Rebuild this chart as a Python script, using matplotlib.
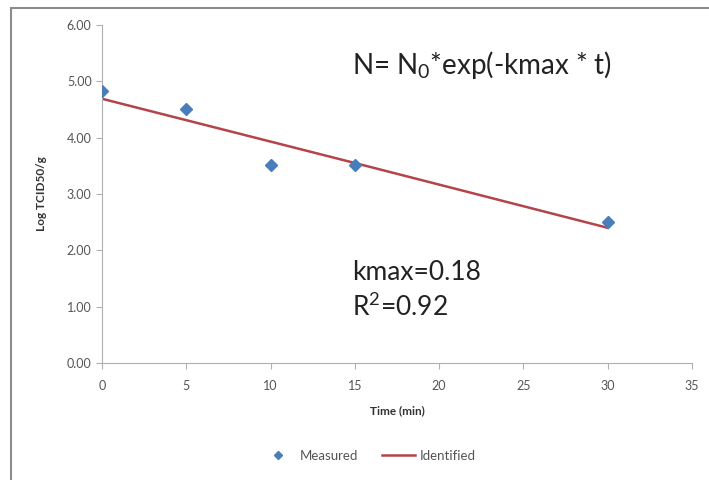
import matplotlib.pyplot as plt
from matplotlib.patches import Rectangle

plt.rcParams['font.family'] = ['Lato', 'DejaVu Sans']
plt.rcParams['mathtext.fontset'] = 'custom'
plt.rcParams['mathtext.rm'] = 'Lato'
plt.rcParams['mathtext.it'] = 'Lato'

# measured points
t_meas = [0, 5, 10, 15, 30]
logN_meas = [4.83, 4.51, 3.51, 3.51, 2.51]

# identified model line
t_fit = [0, 5, 10, 15, 30]
logN_fit = [4.69, 4.31, 3.93, 3.55, 2.40]

xticks = [0, 5, 10, 15, 20, 25, 30, 35]
yticks = [0, 1, 2, 3, 4, 5, 6]

fig = plt.figure(figsize=(7.09, 4.8), dpi=100)
# chart frame like excel
fig.patches.append(Rectangle((11 / 709, -0.01), 1.0, 1 - 8 / 480 + 0.01, transform=fig.transFigure,
                             fill=False, edgecolor='#8c8c8c', linewidth=1.5))

ax = fig.add_axes([0.1439, 0.2437, 0.832, 0.7043])
ax.plot(t_meas, logN_meas, linestyle='none', marker='D', markersize=6.5,
        color='#4a7ebb', label='Measured', zorder=3)
ax.plot(t_fit, logN_fit, color='#b5444a', linewidth=1.8, label='Identified', zorder=2)

ax.set_xlim(0, 35)
ax.set_ylim(0, 6)
ax.set_xticks(xticks)
ax.set_yticks(yticks)
ax.set_yticklabels(['%.2f' % v for v in yticks])
for s in ['top', 'right']:
    ax.spines[s].set_visible(False)
for s in ['left', 'bottom']:
    ax.spines[s].set_color('#b0b0b0')
ax.tick_params(colors='#b0b0b0', labelcolor='#555555', labelsize=9, length=4)
ax.tick_params(axis='x', pad=8)

ax.set_xlabel('Time (min)', fontsize=8.5, fontweight='bold', color='#333333', labelpad=10)
ax.set_ylabel('Log TCID50/g', fontsize=8.5, fontweight='bold', color='#333333', labelpad=14)

ax.text(0.424, 0.882, r'N= N$_0$*exp(-kmax * t)', transform=ax.transAxes,
        fontsize=20, color='#222222', va='center', ha='left')
ax.text(0.424, 0.269, 'kmax=0.18', transform=ax.transAxes,
        fontsize=19, color='#222222', va='center', ha='left')
ax.text(0.424, 0.166, r'R$^2$=0.92', transform=ax.transAxes,
        fontsize=19, color='#222222', va='center', ha='left')

fig.legend(loc='center', bbox_to_anchor=(0.52, 0.05), ncol=2, frameon=False,
           fontsize=9.5, labelcolor='#555555', markerscale=0.6, handlelength=2.5,
           handletextpad=0.4, columnspacing=1.8)

fig.savefig('out.png', dpi=100)
